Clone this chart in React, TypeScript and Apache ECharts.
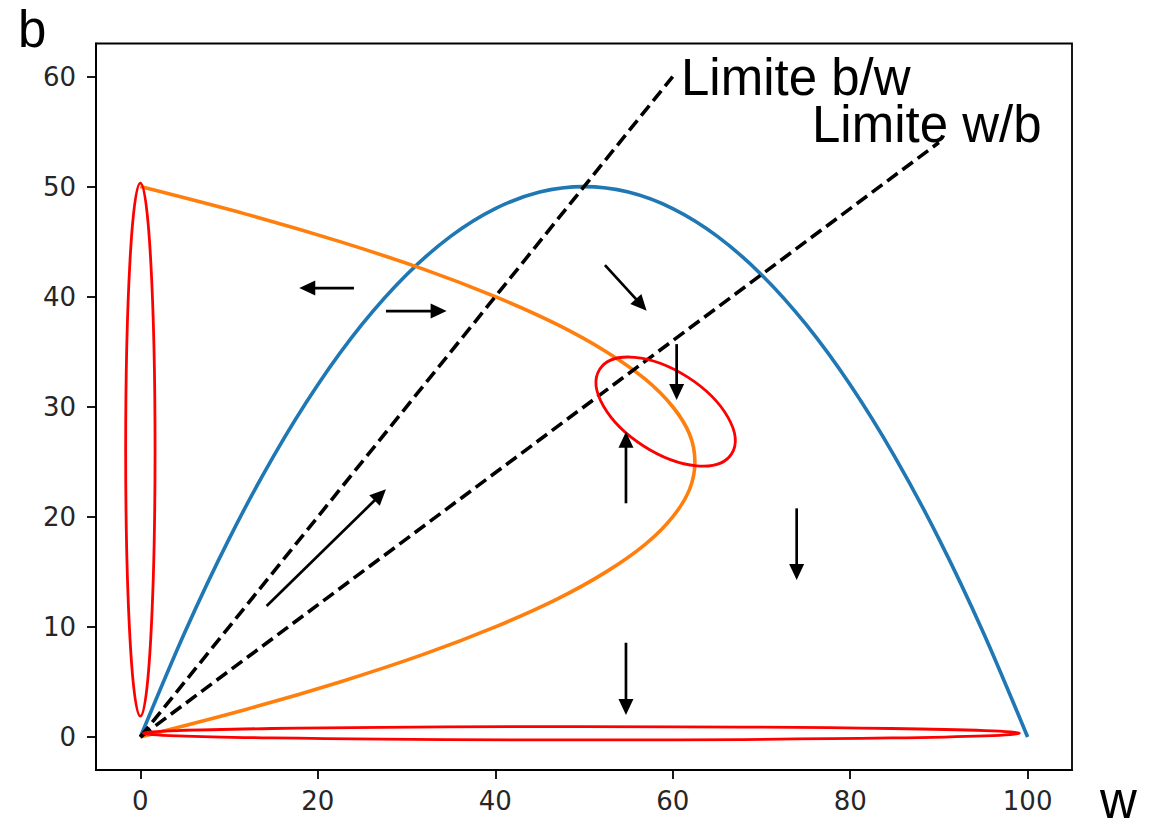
import React, { useEffect, useRef } from "react";
import * as echarts from "echarts";

// Axis ticks
const W_TICKS = [0, 20, 40, 60, 80, 100];
const B_TICKS = [0, 10, 20, 30, 40, 50, 60];

// Blue curve: b against w
const blueW = [0, 5, 10, 15, 20, 25, 30, 35, 40, 45, 50, 55, 60, 65, 70, 75, 80, 85, 90, 95, 100];
const blueB = [0, 9.5, 18, 25.5, 32, 37.5, 42, 45.5, 48, 49.5, 50, 49.5, 48, 45.5, 42, 37.5, 32, 25.5, 18, 9.5, 0];

// Orange curve: w against b
const orangeB = [0, 2.5, 5, 7.5, 10, 12.5, 15, 17.5, 20, 22.5, 25, 27.5, 30, 32.5, 35, 37.5, 40, 42.5, 45, 47.5, 50];
const orangeW = [0, 11.9, 22.5, 31.9, 40, 46.9, 52.5, 56.9, 60, 61.9, 62.5, 61.9, 60, 56.9, 52.5, 46.9, 40, 31.9, 22.5, 11.9, 0];

// Dashed limit lines [w, b]
const limitBW = [[0, 0], [60, 60]];
const limitWB = [[0, 0], [90, 54]];

// Flow arrows, [w, b] of tail and tip
const arrowTails = [
  [24.07, 40.78], [27.68, 38.69], [52.36, 42.87], [60.44, 35.69],
  [54.73, 21.23], [14.23, 11.9], [73.97, 20.77], [54.73, 8.56],
];
const arrowTips = [
  [17.91, 40.78], [34.52, 38.69], [57.06, 38.72], [60.44, 30.61],
  [54.73, 27.73], [27.68, 22.5], [73.97, 14.26], [54.73, 2.0],
];

// Highlight ellipses: centre [w, b], radii in px, tilt in degrees (clockwise)
const ellipseCentres = [[0, 26.1], [49.7, 0.34], [59.2, 29.56]];
const ellipseRadii = [[14.7, 266.5], [438, 6.7], [78.3, 40.9]];
const ellipseTilt = [0, 0, 32.7];

const pairs = (xs: number[], ys: number[]) => xs.map((x, i) => [x, ys[i]]);

export default function App() {
  const ref = useRef<HTMLDivElement>(null);

  useEffect(() => {
    if (!ref.current) return;
    const chart = echarts.init(ref.current, undefined, { renderer: "svg" });

    const tickFont = {
      fontSize: 26,
      fontFamily: "'DejaVu Sans', Verdana, sans-serif",
      color: "#262626",
    };

    const dashed = { color: "#000", width: 3.6, type: [13, 6], cap: "butt" };

    chart.setOption({
      animation: false,
      backgroundColor: "#fff",
      grid: {
        left: 96,
        top: 43.5,
        width: 976,
        height: 726.5,
        show: true,
        borderColor: "#000",
        borderWidth: 1.8,
        backgroundColor: "transparent",
        outerBoundsMode: "none",
      },
      xAxis: {
        type: "value",
        min: -5,
        max: 105,
        axisLine: { onZero: false, lineStyle: { color: "#000", width: 1.8 } },
        axisTick: { customValues: W_TICKS, length: 9, lineStyle: { color: "#000", width: 1.8 } },
        axisLabel: { customValues: W_TICKS, margin: 18, ...tickFont },
        splitLine: { show: false },
      },
      yAxis: {
        type: "value",
        min: -3,
        max: 63,
        axisLine: { onZero: false, lineStyle: { color: "#000", width: 1.8 } },
        axisTick: { customValues: B_TICKS, length: 9, lineStyle: { color: "#000", width: 1.8 } },
        axisLabel: { customValues: B_TICKS, margin: 20, ...tickFont },
        splitLine: { show: false },
      },
      series: [
        {
          type: "line",
          data: pairs(blueW, blueB),
          smooth: 0.3,
          showSymbol: false,
          lineStyle: { color: "#1f77b4", width: 3.6 },
        },
        {
          type: "line",
          data: pairs(orangeW, orangeB),
          smooth: 0.3,
          showSymbol: false,
          lineStyle: { color: "#ff7f0e", width: 3.6 },
        },
        { type: "line", data: limitBW, showSymbol: false, lineStyle: dashed },
        { type: "line", data: limitWB, showSymbol: false, lineStyle: dashed },
      ],
    });

    const toPx = (p: number[]) => chart.convertToPixel({ gridIndex: 0 }, p) as number[];

    const graphics: any[] = [];

    ellipseCentres.forEach((c, i) => {
      const [px, py] = toPx(c);
      graphics.push({
        type: "ellipse",
        x: px,
        y: py,
        rotation: (-ellipseTilt[i] * Math.PI) / 180,
        shape: { cx: 0, cy: 0, rx: ellipseRadii[i][0], ry: ellipseRadii[i][1] },
        style: { fill: "none", stroke: "#ff0000", lineWidth: 2.8 },
        z: 100,
      });
    });

    const headLen = 16;
    const headHalf = 7.5;
    arrowTails.forEach((t, i) => {
      const [x0, y0] = toPx(t);
      const [x1, y1] = toPx(arrowTips[i]);
      const len = Math.hypot(x1 - x0, y1 - y0);
      const dx = (x1 - x0) / len;
      const dy = (y1 - y0) / len;
      const bx = x1 - dx * headLen;
      const by = y1 - dy * headLen;
      graphics.push({
        type: "line",
        shape: { x1: x0, y1: y0, x2: bx + dx, y2: by + dy },
        style: { stroke: "#000", lineWidth: 2.7 },
        z: 110,
      });
      graphics.push({
        type: "polygon",
        shape: {
          points: [
            [x1, y1],
            [bx - dy * headHalf, by + dx * headHalf],
            [bx + dy * headHalf, by - dx * headHalf],
          ],
        },
        style: { fill: "#000" },
        z: 110,
      });
    });

    const bigText = (text: string, x: number, y: number) => ({
      type: "text",
      x,
      y,
      style: {
        text,
        fontSize: 51,
        fontFamily: "'Liberation Sans', Arial, sans-serif",
        fill: "#000",
        align: "left",
        verticalAlign: "middle",
      },
      z: 120,
    });

    graphics.push(bigText("b", 18, 29.4));
    graphics.push(bigText("w", 1100, 800));
    graphics.push(bigText("Limite b/w", 681, 77.7));
    graphics.push(bigText("Limite w/b", 812, 124.4));

    chart.setOption({ graphic: graphics });

    return () => chart.dispose();
  }, []);

  return (
    <div
      ref={ref}
      style={{ position: "fixed", left: 0, top: 0, width: 1160, height: 829, background: "#fff" }}
    />
  );
}
